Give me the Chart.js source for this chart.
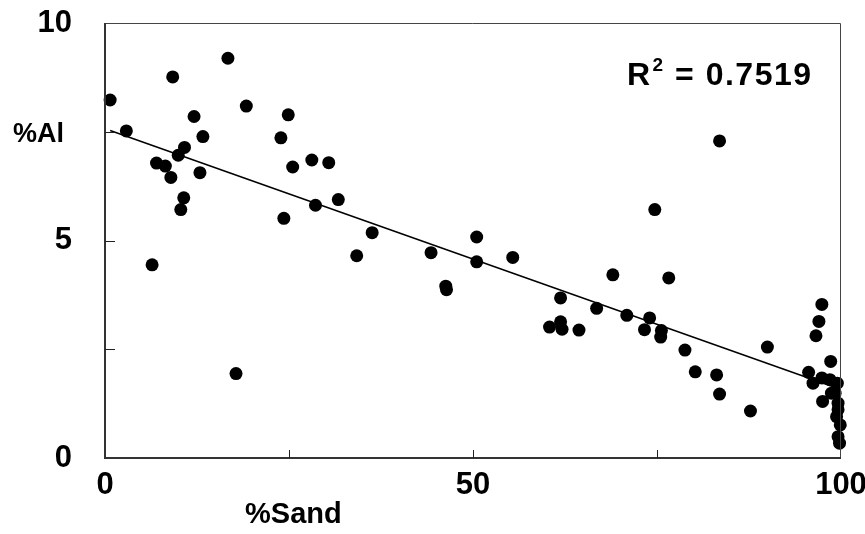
<!DOCTYPE html>
<html>
<head>
<meta charset="utf-8">
<script src="https://cdn.jsdelivr.net/npm/chart.js@4/dist/chart.umd.min.js"></script>
<style>
html,body{margin:0;padding:0;background:#fff;}
#wrap{width:865px;height:534px;position:relative;}
</style>
</head>
<body>
<div id="wrap"><canvas id="c" width="865" height="534"></canvas></div>
<script>
// %Sand (x) values
const sandPct = [0.7,2.9,6.4,7.0,8.2,8.95,9.2,9.95,10.8,10.7,10.3,12.1,12.9,13.3,16.7,17.8,19.2,23.9,24.3,24.9,25.5,28.1,28.6,30.4,31.7,34.2,36.3,44.3,46.3,46.4,50.5,50.5,55.4,60.4,61.9,61.9,62.1,64.4,66.8,69.0,70.9,73.3,74.0,74.7,75.6,75.5,76.6,78.8,80.2,83.1,83.5,83.5,87.7,90.0,95.6,96.2,96.6,97.0,97.4,97.4,97.5,98.5,98.6,98.7,99.5,99.2,99.6,99.4,99.9,99.6,99.8,99.6];
// %Al (y) values
const alPct = [8.23,7.52,4.44,6.78,6.71,6.45,8.76,6.96,7.14,5.98,5.71,7.85,6.56,7.39,9.19,1.94,8.09,7.36,5.51,7.89,6.69,6.85,5.81,6.79,5.94,4.65,5.18,4.72,3.95,3.87,5.08,4.51,4.61,3.01,3.68,3.13,2.96,2.94,3.44,4.21,3.28,2.95,3.22,5.71,2.93,2.78,4.14,2.48,1.98,1.91,1.47,7.29,1.08,2.55,1.97,1.72,2.81,3.14,3.53,1.84,1.30,1.80,2.22,1.49,1.72,1.49,1.26,0.95,0.76,0.49,0.34,1.11];
// linear trend line end points
const trendX = [0.7, 99.9];
const trendY = [7.53, 1.58];
// axis tick values
const xTicks = [0, 25, 50, 75, 100];
const xTickLabels = ['0', '', '50', '', '100'];
const yTicks = [0, 2.5, 5, 7.5, 10];
const yTickLabels = ['0', '', '5', '', '10'];
const r2Text = '0.7519';

const FONT = "'Liberation Sans', Arial, Helvetica, sans-serif";

const scatterData = sandPct.map((x, i) => ({x: x, y: alPct[i]}));
const trendData = trendX.map((x, i) => ({x: x, y: trendY[i]}));

const decor = {
  id: 'decor',
  afterDatasetsDraw(chart) {
    const ctx = chart.ctx;
    const a = chart.chartArea;
    const xs = chart.scales.x, ys = chart.scales.y;
    ctx.save();
    // frame
    ctx.strokeStyle = '#444';
    ctx.lineWidth = 1;
    ctx.beginPath();
    ctx.moveTo(a.left, a.top + 0.5);
    ctx.lineTo(a.right - 0.5, a.top + 0.5);
    ctx.lineTo(a.right - 0.5, a.bottom);
    ctx.stroke();
    ctx.strokeStyle = '#333';
    ctx.lineWidth = 2;
    ctx.beginPath();
    ctx.moveTo(a.left, a.top);
    ctx.lineTo(a.left, a.bottom);
    ctx.lineTo(a.right, a.bottom);
    ctx.stroke();
    // inner tick marks
    ctx.lineWidth = 1;
    ctx.strokeStyle = '#222';
    xTicks.forEach(v => {
      if (v === xTicks[0] || v === xTicks[xTicks.length - 1]) return;
      const px = Math.round(xs.getPixelForValue(v)) + 0.5;
      ctx.beginPath(); ctx.moveTo(px, a.bottom); ctx.lineTo(px, a.bottom - 8); ctx.stroke();
    });
    yTicks.forEach(v => {
      if (v === yTicks[0] || v === yTicks[yTicks.length - 1]) return;
      const py = Math.round(ys.getPixelForValue(v)) + 0.5;
      ctx.beginPath(); ctx.moveTo(a.left, py); ctx.lineTo(a.left + 10, py); ctx.stroke();
    });
    // axis titles
    ctx.fillStyle = '#000';
    ctx.textBaseline = 'alphabetic';
    ctx.textAlign = 'left';
    ctx.font = 'bold 27px ' + FONT;
    ctx.fillText('%Al', 13, 142);
    ctx.font = 'bold 29px ' + FONT;
    ctx.fillText('%Sand', 245, 523);
    // R squared label
    if ('letterSpacing' in ctx) ctx.letterSpacing = '1.5px';
    ctx.font = 'bold 32px ' + FONT;
    let x = 627;
    const base = 85;
    ctx.fillText('R', x, base);
    x += ctx.measureText('R').width;
    ctx.font = 'bold 19px ' + FONT;
    ctx.fillText('2', x + 1, base - 14);
    x += ctx.measureText('2').width + 1;
    ctx.font = 'bold 32px ' + FONT;
    ctx.fillText(' = ' + r2Text, x, base);
    ctx.restore();
  }
};

new Chart(document.getElementById('c'), {
  data: {
    datasets: [
      {
        type: 'scatter',
        label: '%Al',
        data: scatterData,
        backgroundColor: '#000',
        borderColor: '#000',
        pointRadius: 6.5,
        pointHoverRadius: 6.5,
        borderWidth: 0,
        clip: false
      },
      {
        type: 'line',
        label: 'Trend',
        data: trendData,
        borderColor: '#000',
        borderWidth: 1.5,
        pointRadius: 0,
        fill: false,
        tension: 0
      }
    ]
  },
  options: {
    responsive: false,
    animation: false,
    events: [],
    layout: { padding: { top: 23, right: 24, left: 0, bottom: 0 } },
    plugins: {
      legend: { display: false },
      tooltip: { enabled: false },
      title: { display: false }
    },
    scales: {
      x: {
        type: 'linear',
        min: 0, max: 100,
        afterBuildTicks: s => { s.ticks = xTicks.map(v => ({value: v})); },
        afterFit: s => { s.height = 76; s.paddingLeft = 0; s.paddingRight = 0; },
        grid: { display: false },
        border: { display: false },
        ticks: {
          autoSkip: false, maxRotation: 0, padding: 1,
          color: '#000',
          font: { family: FONT, size: 31, weight: 'bold' },
          callback: (v) => xTickLabels[xTicks.indexOf(v)]
        }
      },
      y: {
        type: 'linear',
        min: 0, max: 10,
        afterBuildTicks: s => { s.ticks = yTicks.map(v => ({value: v})); },
        afterFit: s => { s.width = 105; s.paddingTop = 0; s.paddingBottom = 0; },
        grid: { display: false },
        border: { display: false },
        ticks: {
          autoSkip: false, padding: 25,
          color: '#000',
          font: { family: FONT, size: 31, weight: 'bold' },
          callback: (v) => yTickLabels[yTicks.indexOf(v)]
        }
      }
    }
  },
  plugins: [decor]
});
</script>
</body>
</html>
